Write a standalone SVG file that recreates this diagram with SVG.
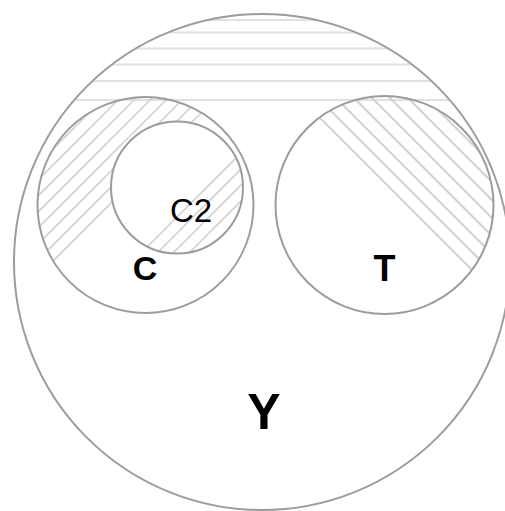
<svg xmlns="http://www.w3.org/2000/svg" width="505" height="511" viewBox="0 0 505 511">
<style>
.ring{fill:none;stroke:#9c9c9c;stroke-width:2}
.hh{stroke:#e0e0e0;stroke-width:2}
.hc{stroke:#d4d4d4;stroke-width:1.7}
.ht{stroke:#d2d2d2;stroke-width:2}
.lbl{font-family:"Liberation Sans",Arial,sans-serif;fill:#000;text-anchor:middle}
.b{font-weight:bold}
</style>
<defs>
<clipPath id="clipY"><circle cx="262" cy="262" r="248"/></clipPath>
<clipPath id="clipC"><path clip-rule="evenodd" d="M37.5 205a108 108 0 1 0 216 0a108 108 0 1 0 -216 0Z M111 187.5a66 66 0 1 0 132 0a66 66 0 1 0 -132 0Z"/></clipPath>
<clipPath id="clipC2"><circle cx="177" cy="187.5" r="66"/></clipPath>
<clipPath id="clipT"><circle cx="384.5" cy="205" r="109"/></clipPath>
</defs>
<rect width="505" height="511" fill="#fff"/>
<g id="hatching">
<g clip-path="url(#clipY)">
<line class="hh" x1="0" y1="20" x2="505" y2="20"/>
<line class="hh" x1="0" y1="32.5" x2="505" y2="32.5"/>
<line class="hh" x1="0" y1="48.5" x2="505" y2="48.5"/>
<line class="hh" x1="0" y1="64.5" x2="505" y2="64.5"/>
<line class="hh" x1="0" y1="81" x2="505" y2="81"/>
<line class="hh" x1="0" y1="100" x2="505" y2="100"/>
</g>
<g clip-path="url(#clipC)">
<line class="hc" x1="0" y1="314" x2="314" y2="0"/>
<line class="hc" x1="0" y1="298" x2="298" y2="0"/>
<line class="hc" x1="0" y1="282" x2="282" y2="0"/>
<line class="hc" x1="0" y1="266" x2="266" y2="0"/>
<line class="hc" x1="0" y1="250" x2="250" y2="0"/>
<line class="hc" x1="0" y1="234" x2="234" y2="0"/>
<line class="hc" x1="0" y1="218" x2="218" y2="0"/>
<line class="hc" x1="0" y1="202" x2="202" y2="0"/>
</g>
<g clip-path="url(#clipC2)">
<line class="hc" x1="0" y1="394" x2="394" y2="0"/>
<line class="hc" x1="0" y1="410" x2="410" y2="0"/>
<line class="hc" x1="0" y1="426" x2="426" y2="0"/>
<line class="hc" x1="0" y1="442" x2="442" y2="0"/>
</g>
<g clip-path="url(#clipT)">
<line class="ht" x1="202" y1="0" x2="505" y2="303"/>
<line class="ht" x1="220" y1="0" x2="505" y2="285"/>
<line class="ht" x1="238" y1="0" x2="505" y2="267"/>
<line class="ht" x1="256" y1="0" x2="505" y2="249"/>
<line class="ht" x1="274" y1="0" x2="505" y2="231"/>
<line class="ht" x1="292" y1="0" x2="505" y2="213"/>
<line class="ht" x1="310" y1="0" x2="505" y2="195"/>
<line class="ht" x1="328" y1="0" x2="505" y2="177"/>
</g>
</g>
<g id="connectors"></g>
<g id="node-Y">
<circle class="ring" cx="262" cy="262" r="248"/>
<text class="lbl b" x="264" y="429" font-size="50">Y</text>
</g>
<g id="node-C">
<circle class="ring" cx="145.5" cy="205" r="108"/>
<text class="lbl b" x="145" y="280" font-size="34">C</text>
</g>
<g id="node-C2">
<circle class="ring" cx="177" cy="187.5" r="66"/>
<text class="lbl" x="191" y="222" font-size="33">C2</text>
</g>
<g id="node-T">
<circle class="ring" cx="384.5" cy="205" r="109"/>
<text class="lbl b" x="384.5" y="281" font-size="36">T</text>
</g>
</svg>
